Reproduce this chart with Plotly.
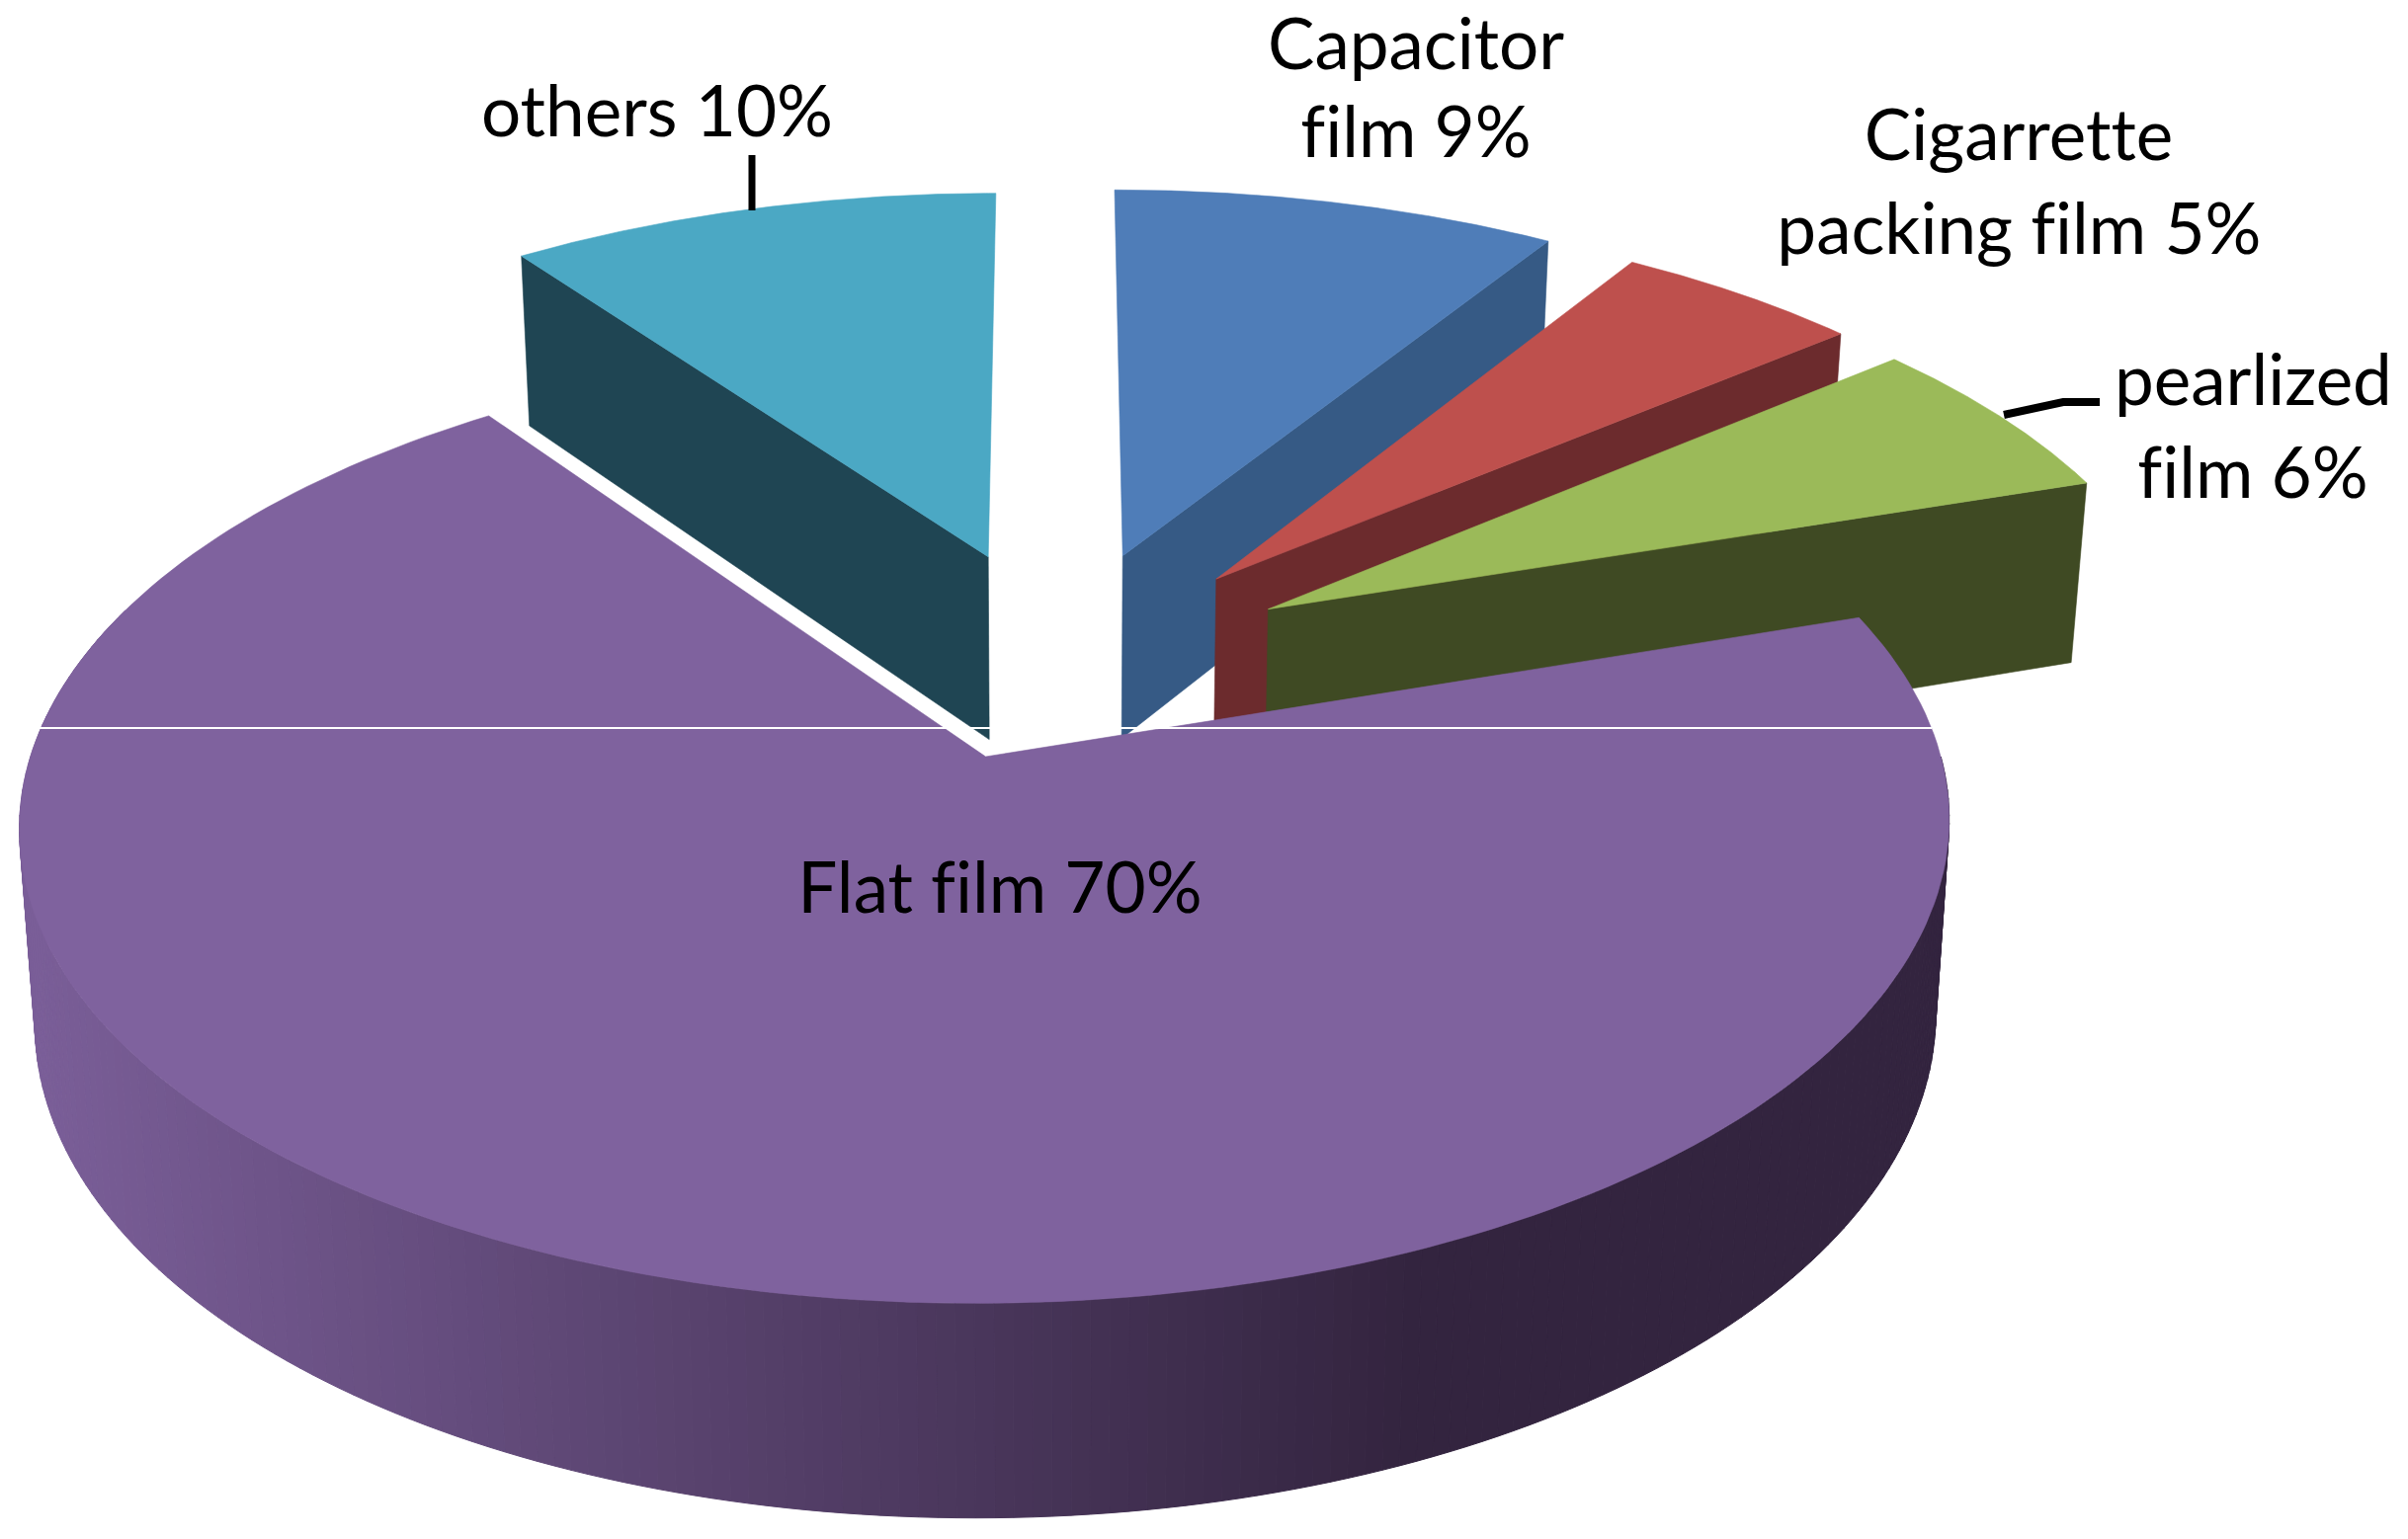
import numpy as np
import plotly.graph_objects as go

categories = ["Capacitor film", "Cigarrette packing film", "pearlized film", "Flat film", "others"]
values = [9, 5, 6, 70, 10]
top_colors = ["#4F7DB8", "#BE504D", "#9BBA59", "#7F629E", "#4BA8C4"]
side_colors = ["#365A85", "#6C2B2D", "#3F4A23", "#6F578D", "#1F4553"]
gradient_left = (122, 94, 152)
gradient_right = (51, 36, 63)
slice_dx = [2, 3, 2, 6.5, 5.5]       # small horizontal nudges per slice (in shrunk px)
slice_ypull = [1, 1, 1, 0.80, 1]     # share of the explosion distance along the depth axis
slice_radius = [1.008, 1, 1, 1.008, 1]

W, H = 2437, 1558
S = W / 1568
CX, CY = 686 * S, 433 * S
R, PULL, DEPTH = 600 * S, 160 * S, 122 * S
GY, PERSP, BOTTOM = 0.478, 0.000227 / S, 0.985


def project(x, y, low=False):
    d = 1 + PERSP * y
    sx, sy = x / d, GY * y / d
    if low:
        return CX + sx * BOTTOM, CY - sy * BOTTOM + DEPTH / d
    return CX + sx, CY - sy


def apex(i):
    m = np.radians(mids[i])
    return PULL * np.sin(m) + slice_dx[i] * S, PULL * np.cos(m) * slice_ypull[i]


def polar(theta_deg, i):
    t = np.radians(theta_deg)
    ax, ay = apex(i)
    r = R * slice_radius[i]
    return ax + r * np.sin(t), ay + r * np.cos(t)


def poly(fig, xs, ys, color, name, width=0.6):
    fig.add_trace(go.Scatter(x=list(xs), y=list(ys), mode="lines", fill="toself", fillcolor=color,
                             line=dict(color=color, width=width), name=name, hoverinfo="skip", showlegend=False))


def face(fig, theta, i):
    ax, ay = apex(i)
    ox, oy = polar(theta, i)
    a, b = project(ax, ay), project(ox, oy)
    c, d = project(ox, oy, True), project(ax, ay, True)
    poly(fig, [a[0], b[0], c[0], d[0], a[0]], [a[1], b[1], c[1], d[1], a[1]], side_colors[i], categories[i])


def top(fig, i):
    th = np.linspace(edges[i], edges[i + 1], 200)
    ax, ay = apex(i)
    px, py = polar(th, i)
    sx, sy = project(px, py)
    a = project(ax, ay)
    poly(fig, np.r_[a[0], sx, a[0]], np.r_[a[1], sy, a[1]], top_colors[i], categories[i])


total = sum(values)
edges = np.cumsum([0] + values) / total * 360
mids = (edges[:-1] + edges[1:]) / 2
fig = go.Figure()

# painter's order: others, capacitor, cigarette, pearlized, flat film
face(fig, edges[4], 4)
top(fig, 4)
for i in (0, 1, 2):
    face(fig, edges[i + 1], i)
    top(fig, i)

# flat film curved wall, shaded strip by strip
i = 3
strips = np.arange(90, 290, 1.0)
for t0, t1 in zip(strips[:-1], strips[1:]):
    px, py = polar(np.array([t0, t1]), i)
    ux, uy = project(px, py)
    lx, ly = project(px, py, True)
    f = np.clip((0.5 * (ux[0] + ux[1]) - 30) / (1430 - 30), 0, 1)
    rgb = [int(round(a + (b - a) * f)) for a, b in zip(gradient_left, gradient_right)]
    col = "rgb(%d,%d,%d)" % tuple(rgb)
    poly(fig, [ux[0], ux[1], lx[1], lx[0], ux[0]], [uy[0], uy[1], ly[1], ly[0], uy[0]], col, categories[i], 1)
top(fig, 3)

label_lines = [("Capacitor", 1433, 42), ("film 9%", 1433, 131),
               ("Cigarrette", 2043, 134), ("packing film 5%", 2043, 229),
               ("pearlized", 2280, 382), ("film 6%", 2280, 476),
               ("Flat film 70%", 1012, 896), ("others 10%", 665, 110)]
annotations = [dict(x=x, y=y, text=t, showarrow=False, xanchor="center", yanchor="middle",
                    font=dict(family="Lato", size=71, color="black")) for t, x, y in label_lines]

shapes = [
    dict(type="line", x0=40, x1=1955, y0=737, y1=737, line=dict(color="white", width=2), layer="above"),
    dict(type="line", x0=761, x1=761, y0=157, y1=213, line=dict(color="black", width=7), layer="above"),
    dict(type="path", path="M 2028 420 L 2088 407 L 2125 407", line=dict(color="black", width=8), layer="above"),
]

fig.update_layout(
    width=W, height=H, margin=dict(l=0, r=0, t=0, b=0), paper_bgcolor="white", plot_bgcolor="white",
    xaxis=dict(range=[0, W], visible=False, fixedrange=True),
    yaxis=dict(range=[H, 0], visible=False, fixedrange=True),
    annotations=annotations, shapes=shapes, showlegend=False,
)
fig.write_html("out.html", config=dict(displayModeBar=False),
               post_script="document.body.style.margin='0';document.querySelectorAll('.annotation text').forEach(function(t){t.style.fontVariantLigatures='none';});")
